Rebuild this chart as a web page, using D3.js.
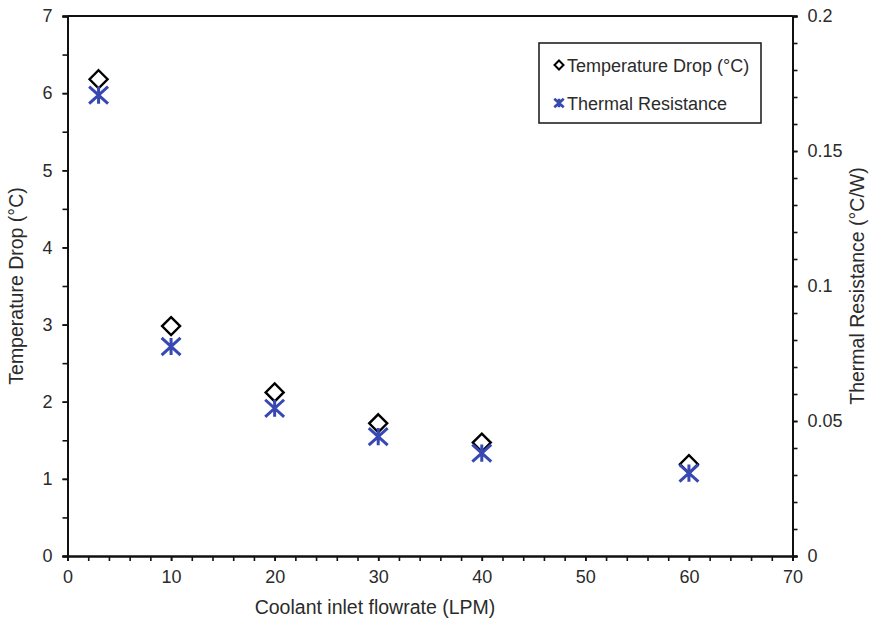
<!DOCTYPE html>
<html lang="en">
<head>
<meta charset="utf-8">
<title>coolant flowrate</title>
<script src="https://cdn.jsdelivr.net/npm/d3@7"></script>
<style>
	body { margin: 0; background: #fff; }
	text { font-family: "Liberation Sans", Arial, sans-serif; fill: #2b2b2b; }
</style>
</head>
<body>
<div id="chart"></div>
<script>
// values
var flowrate = [3, 10, 20, 30, 40, 60]
var tempDrop = [6.18, 2.98, 2.12, 1.72, 1.47, 1.19]
var thermalRes = [0.1707, 0.0776, 0.0547, 0.0442, 0.0381, 0.0307]

var xTicks = [0, 10, 20, 30, 40, 50, 60, 70]
var yLeftTicks = [0, 1, 2, 3, 4, 5, 6, 7]
var yRightTicks = [0, 0.05, 0.1, 0.15, 0.2]

var w = 872, h = 623
var m = {left: 67.5, right: 79.5, top: 16, bottom: 67}

var svg = d3.select("#chart").append("svg")
	.attr("width", w).attr("height", h)

var xScale = d3.scaleLinear().domain([0, 70]).range([m.left, w - m.right])
var yLeft = d3.scaleLinear().domain([0, 7]).range([h - m.bottom, m.top])
var yRight = d3.scaleLinear().domain([0, 0.2]).range([h - m.bottom, m.top])

var blue = "#3748b2"

// minor ticks first (no labels)
svg.append("g")
	.attr("transform", "translate(0," + (h - m.bottom) + ")")
	.call(d3.axisBottom(xScale).tickValues(d3.range(0, 71, 2)).tickSize(5).tickFormat(""))
svg.append("g")
	.attr("transform", "translate(" + m.left + ",0)")
	.call(d3.axisLeft(yLeft).tickValues(d3.range(0, 7.01, 0.5)).tickSize(5).tickFormat(""))
svg.append("g")
	.attr("transform", "translate(" + (w - m.right) + ",0)")
	.call(d3.axisRight(yRight).tickValues(d3.range(0, 0.2001, 0.01)).tickSize(5).tickFormat(""))

// labelled axes
svg.append("g")
	.attr("transform", "translate(0," + (h - m.bottom) + ")")
	.call(d3.axisBottom(xScale).tickValues(xTicks).tickSize(5).tickPadding(9).tickFormat(d3.format("d")))
svg.append("g")
	.attr("transform", "translate(" + m.left + ",0)")
	.call(d3.axisLeft(yLeft).tickValues(yLeftTicks).tickSize(5).tickPadding(10).tickFormat(d3.format("d")))
svg.append("g")
	.attr("transform", "translate(" + (w - m.right) + ",0)")
	.call(d3.axisRight(yRight).tickValues(yRightTicks).tickSize(5).tickPadding(10)
		.tickFormat(function(d){ return d == 0 ? "0" : String(+d.toFixed(2)) }))

svg.selectAll(".domain").attr("stroke", "#111").attr("stroke-width", 2)
svg.selectAll(".tick line").attr("stroke", "#111").attr("stroke-width", 1.6)
svg.selectAll(".tick text").style("font-size", "18px").attr("fill", "#2b2b2b")
	.style("font-family", "'Liberation Sans', Arial, sans-serif")

// top frame line
svg.append("line")
	.attr("x1", m.left).attr("x2", w - m.right)
	.attr("y1", m.top).attr("y2", m.top)
	.attr("stroke", "#111").attr("stroke-width", 2)

// axis titles
svg.append("text")
	.attr("x", 375).attr("y", 614)
	.attr("text-anchor", "middle").style("font-size", "19.5px")
	.text("Coolant inlet flowrate (LPM)")
svg.append("text")
	.attr("transform", "translate(23," + ((m.top + h - m.bottom) / 2) + ") rotate(-90)")
	.attr("text-anchor", "middle").style("font-size", "19.5px")
	.text("Temperature Drop (°C)")
svg.append("text")
	.attr("transform", "translate(864," + ((m.top + h - m.bottom) / 2) + ") rotate(-90)")
	.attr("text-anchor", "middle").style("font-size", "19.5px")
	.text("Thermal Resistance (°C/W)")

function diamond(g, x, y, r, sw){
	g.append("path")
		.attr("d", "M" + x + "," + (y - r) + "L" + (x + r) + "," + y + "L" + x + "," + (y + r) + "L" + (x - r) + "," + y + "Z")
		.attr("fill", "none").attr("stroke", "#000").attr("stroke-width", sw)
}
function star(g, x, y, r, sw){
	var rx = r * 1.05, ry = r * 0.95
	g.append("path")
		.attr("d", "M" + (x - rx) + "," + (y - ry) + "L" + (x + rx) + "," + (y + ry)
			+ "M" + (x + rx) + "," + (y - ry) + "L" + (x - rx) + "," + (y + ry)
			+ "M" + x + "," + (y - ry) + "L" + x + "," + (y + ry))
		.attr("fill", "none").attr("stroke", blue).attr("stroke-width", sw)
}

var pts = svg.append("g")
flowrate.forEach(function(f, i){
	diamond(pts, xScale(f), yLeft(tempDrop[i]), 9, 2.4)
})
flowrate.forEach(function(f, i){
	star(pts, xScale(f), yRight(thermalRes[i]), 9, 3)
})

// legend
var lg = svg.append("g")
lg.append("rect")
	.attr("x", 539).attr("y", 43).attr("width", 222).attr("height", 80)
	.attr("fill", "#fff").attr("stroke", "#222").attr("stroke-width", 1.6)
diamond(lg, 559, 65, 4.5, 2)
lg.append("text").attr("x", 567).attr("y", 71.5).style("font-size", "18px").text("Temperature Drop (°C)")
star(lg, 559, 103, 4.5, 2.6)
lg.append("text").attr("x", 567).attr("y", 109.5).style("font-size", "18px").text("Thermal Resistance")
</script>
</body>
</html>
